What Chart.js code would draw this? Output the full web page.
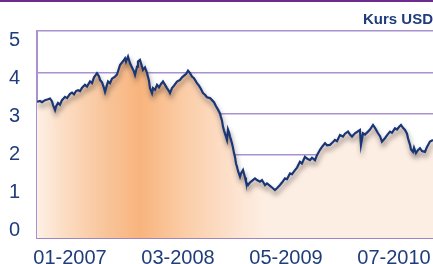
<html>
  <head>
    <meta charset="utf-8" />
    <title>Kurs USD</title>
    <style>
      body { margin: 0; background: #fff; }
      #wrap { width: 433px; height: 264px; }
    </style>
  </head>
  <body>
    <div id="wrap"><canvas id="chartLine"></canvas></div>

    <script src="https://cdn.jsdelivr.net/npm/chart.js"></script>
    <script>
      // months counted from 01-2006 (0 = Jan 2006)
      var months = [
        7.72, 8.11, 8.37, 8.76, 9.15, 9.41, 9.67, 9.80, 10.06, 10.19, 10.44, 10.70, 10.96, 11.35, 11.61,
        12.00, 12.26, 12.52, 12.78, 13.04, 13.30, 13.56, 13.94, 14.20, 14.59, 14.85, 15.11, 15.50, 15.76,
        15.89, 16.15, 16.41, 16.54, 16.67, 16.93, 17.19, 17.44, 17.83, 18.09, 18.35, 18.48, 18.74, 19.00,
        19.13, 19.26, 19.52, 19.78, 20.04, 20.30, 20.43, 20.69, 20.81, 21.07, 21.33, 21.46, 21.72, 21.98,
        22.24, 22.37, 22.63, 22.76, 23.02, 23.28, 23.54, 23.80, 24.06, 24.32, 24.57, 24.83, 24.96, 25.22,
        25.48, 25.87, 26.26, 26.52, 26.78, 27.04, 27.30, 27.56, 27.81, 28.07, 28.46, 28.72, 28.98, 29.24,
        29.50, 29.76, 30.15, 30.41, 30.67, 30.93, 31.19, 31.44, 31.57, 31.70, 31.83, 31.96, 32.09, 32.22,
        32.35, 32.48, 32.61, 32.74, 33.00, 33.13, 33.26, 33.39, 33.52, 33.65, 33.78, 34.04, 34.17, 34.43,
        34.69, 34.81, 35.07, 35.33, 35.59, 35.98, 36.24, 36.63, 36.89, 37.28, 37.54, 37.93, 38.19, 38.57,
        38.83, 39.22, 39.48, 39.87, 40.13, 40.52, 40.78, 41.17, 41.43, 41.81, 42.07, 42.46, 42.72, 43.11,
        43.37, 43.76, 44.02, 44.41, 44.67, 45.06, 45.32, 45.70, 46.09, 46.35, 46.61, 47.00, 47.39, 47.65,
        48.04, 48.30, 48.56, 48.94, 49.20, 49.59, 49.72, 49.98, 50.24, 50.63, 50.89, 51.28, 51.54, 51.93,
        52.19, 52.44, 52.83, 53.09, 53.48, 53.74, 54.13, 54.39, 54.65, 54.91, 55.17, 55.43, 55.69, 55.82,
        56.08, 56.21, 56.47, 56.60, 56.85, 57.11, 57.37, 57.63, 58.02, 58.28, 58.67, 59.06
      ];
      var kurs = [
        3.29, 3.31, 3.28, 3.33, 3.35, 3.37, 3.30, 3.21, 3.09, 3.18, 3.26, 3.22, 3.33, 3.41, 3.38,
        3.48, 3.51, 3.47, 3.55, 3.57, 3.55, 3.63, 3.70, 3.66, 3.78, 3.74, 3.88, 3.98, 3.90,
        3.82, 3.76, 3.62, 3.53, 3.62, 3.78, 3.74, 3.85, 3.90, 3.95, 4.10, 4.18, 4.24, 4.30,
        4.34, 4.26, 4.38, 4.22, 4.12, 4.02, 3.94, 4.14, 4.26, 4.30, 4.14, 4.06, 4.12, 3.99,
        3.80, 3.62, 3.50, 3.62, 3.58, 3.70, 3.64, 3.72, 3.78, 3.70, 3.62, 3.55, 3.50, 3.62,
        3.68, 3.78, 3.82, 3.88, 3.92, 3.96, 4.04, 3.98, 3.90, 3.86, 3.74, 3.68, 3.60, 3.50,
        3.46, 3.40, 3.38, 3.33, 3.28, 3.18, 3.10, 3.01, 2.92, 2.84, 2.69, 2.60, 2.52, 2.45,
        2.37, 2.62, 2.55, 2.45, 2.29, 2.18, 2.05, 1.96, 1.80, 1.72, 1.62, 1.48, 1.56, 1.64,
        1.46, 1.36, 1.28, 1.34, 1.38, 1.44, 1.40, 1.36, 1.40, 1.28, 1.32, 1.26, 1.22, 1.16,
        1.20, 1.28, 1.34, 1.44, 1.42, 1.56, 1.54, 1.64, 1.70, 1.84, 1.80, 1.96, 1.92, 1.88,
        1.94, 1.88, 2.00, 2.13, 2.20, 2.29, 2.24, 2.25, 2.32, 2.37, 2.34, 2.49, 2.45, 2.52,
        2.57, 2.50, 2.45, 2.53, 2.56, 2.61, 2.25, 2.53, 2.50, 2.57, 2.62, 2.73, 2.66, 2.53,
        2.46, 2.33, 2.41, 2.48, 2.57, 2.54, 2.65, 2.62, 2.68, 2.73, 2.66, 2.61, 2.52, 2.41,
        2.25, 2.14, 2.08, 2.18, 2.05, 2.12, 2.17, 2.10, 2.08, 2.20, 2.33, 2.37
      ];
      var xTickMonths = [12, 26, 40, 54];
      var xTickLabels = ["01-2007", "03-2008", "05-2009", "07-2010"];
      var yTicks = [0, 1, 2, 3, 4, 5];

      var navy = "#1f3d7a";
      var lila = "#a893d0";
      var fontName = "'Liberation Sans', Arial, sans-serif";

      var punkte = months.map(function (m, i) {
        return { x: m, y: kurs[i] };
      });

      // orange verlauf unter der linie
      function verlauf(context) {
        var area = context.chart.chartArea;
        if (!area) return null;
        var g = context.chart.ctx.createLinearGradient(area.left, 0, area.right, 0);
        g.addColorStop(0, "#fdf0e6");
        g.addColorStop(0.06, "#fcdfc7");
        g.addColorStop(0.16, "#f9c79f");
        g.addColorStop(0.26, "#f8b47d");
        g.addColorStop(0.37, "#fbcca6");
        g.addColorStop(0.52, "#fde6d5");
        g.addColorStop(0.58, "#fdeee4");
        g.addColorStop(1, "#fdeee4");
        return g;
      }

      var schatten = {
        id: "schatten",
        beforeDatasetDraw: function (chart, args) {
          if (args.index !== 1) return;
          var ctx = chart.ctx;
          ctx.save();
          ctx.shadowColor = "rgba(60,50,45,0.6)";
          ctx.shadowBlur = 5;
          ctx.shadowOffsetX = 1;
          ctx.shadowOffsetY = 4;
        },
        afterDatasetDraw: function (chart, args) {
          if (args.index === 1) chart.ctx.restore();
        },
      };

      var obenLinie = {
        id: "obenLinie",
        afterDraw: function (chart) {
          var ctx = chart.ctx;
          ctx.save();
          ctx.fillStyle = "#6c2b8e";
          ctx.fillRect(0, 0, chart.width, 2);
          ctx.restore();
        },
      };

      var ctx = document.getElementById("chartLine").getContext("2d");
      var lineChart = new Chart(ctx, {
        type: "line",
        data: {
          datasets: [
            {
              data: punkte,
              fill: "origin",
              backgroundColor: verlauf,
              borderWidth: 0,
              pointRadius: 0,
              order: 2,
            },
            {
              data: punkte,
              fill: false,
              borderColor: "#1a3676",
              borderWidth: 2.2,
              pointRadius: 0,
              tension: 0,
              order: 1,
            },
          ],
        },
        options: {
          responsive: true,
          maintainAspectRatio: false,
          animation: false,
          layout: { padding: 0 },
          plugins: {
            legend: { display: false },
            tooltip: { enabled: false },
            title: {
              display: true,
              text: "Kurs USD",
              align: "end",
              color: navy,
              font: { family: fontName, size: 15, weight: "bold" },
              padding: { top: 11, bottom: 2 },
            },
          },
          scales: {
            x: {
              type: "linear",
              min: months[0],
              max: months[months.length - 1],
              afterBuildTicks: function (s) {
                s.ticks = xTickMonths.map(function (v) {
                  return { value: v };
                });
              },
              afterFit: function (s) {
                s.height = 26;
                s.paddingLeft = 0;
                s.paddingRight = 0;
              },
              ticks: {
                autoSkip: false,
                maxRotation: 0,
                padding: 8,
                color: navy,
                font: { family: fontName, size: 20 },
                callback: function (v) {
                  var i = xTickMonths.indexOf(v);
                  return i >= 0 ? xTickLabels[i] : "";
                },
              },
              grid: { display: false, drawTicks: false },
              border: { display: true, color: "#9d86c6", width: 2 },
            },
            y: {
              min: 0,
              max: 5,
              weight: 0,
              afterBuildTicks: function (s) {
                s.ticks = yTicks.map(function (v) {
                  return { value: v };
                });
              },
              afterFit: function (s) {
                s.width = 0;
              },
              ticks: { display: false },
              grid: { color: lila, lineWidth: 1.5, drawTicks: false },
              border: { display: true, color: lila, width: 2 },
            },
            // nur fuer die beschriftung, etwas anders verteilt als die gitterlinien
            yl: {
              position: "left",
              min: -0.197,
              max: 5.25,
              weight: 1,
              afterBuildTicks: function (s) {
                s.ticks = yTicks.map(function (v) {
                  return { value: v };
                });
              },
              afterFit: function (s) {
                s.width = 37;
                s.paddingTop = 0;
                s.paddingBottom = 0;
              },
              ticks: {
                padding: 17,
                color: navy,
                font: { family: fontName, size: 20 },
              },
              grid: { display: false, drawTicks: false },
              border: { display: false },
            },
          },
        },
        plugins: [schatten, obenLinie],
      });
    </script>
  </body>
</html>
